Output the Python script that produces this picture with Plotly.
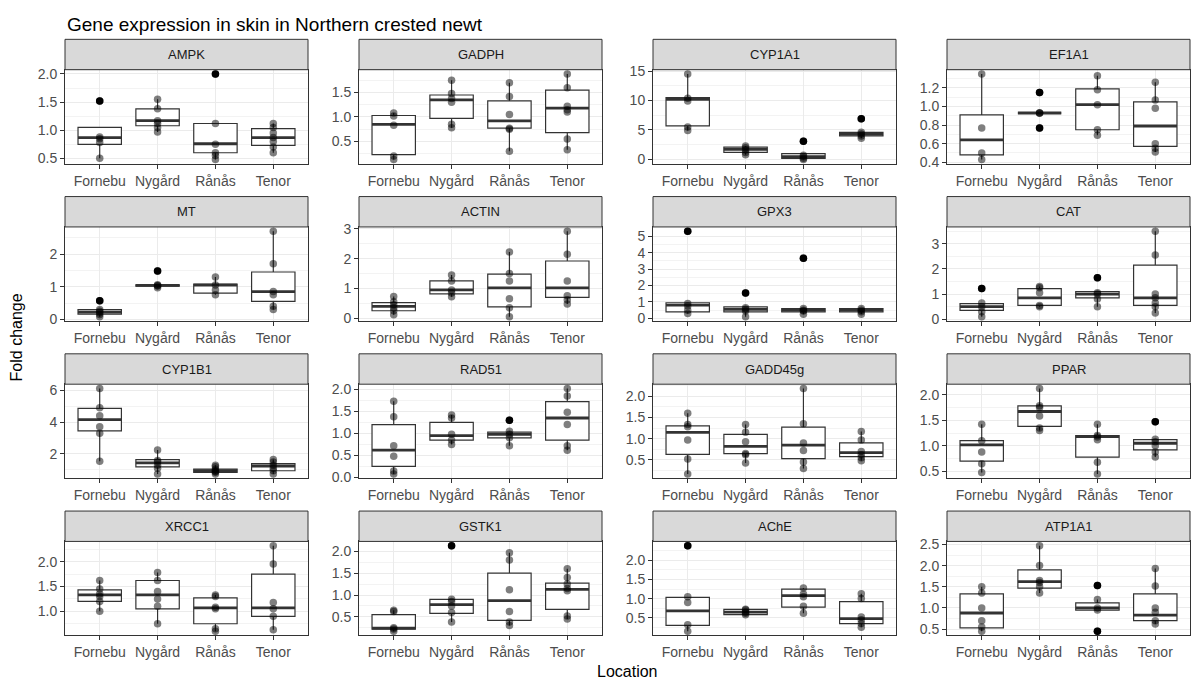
import plotly.graph_objects as go

genes = ["AMPK", "GADPH", "CYP1A1", "EF1A1",
         "MT", "ACTIN", "GPX3", "CAT",
         "CYP1B1", "RAD51", "GADD45g", "PPAR",
         "XRCC1", "GSTK1", "AChE", "ATP1A1"]
locations = ["Fornebu", "Nygård", "Rånås", "Tenor"]

# box statistics per gene, one value per location (Fornebu, Nygård, Rånås, Tenor)
q1 = [
    [0.75, 1.08, 0.60, 0.73], [0.23, 0.97, 0.77, 0.68], [5.7, 1.2, 0.2, 4.0], [0.48, 0.93, 0.75, 0.57],
    [0.16, 1.02, 0.80, 0.55], [0.25, 0.82, 0.38, 0.70], [0.40, 0.40, 0.40, 0.40], [0.35, 0.55, 0.85, 0.55],
    [3.45, 1.20, 0.85, 0.95], [0.25, 0.85, 0.90, 0.85], [0.63, 0.65, 0.53, 0.58], [0.70, 1.38, 0.78, 0.92],
    [1.20, 1.05, 0.75, 0.90], [0.22, 0.58, 0.42, 0.67], [0.30, 0.58, 0.78, 0.35], [0.53, 1.47, 0.95, 0.70],
]
medians = [
    [0.87, 1.17, 0.76, 0.87], [0.85, 1.35, 0.92, 1.18], [10.2, 1.7, 0.5, 4.3], [0.64, 0.93, 1.02, 0.79],
    [0.22, 1.04, 1.05, 0.85], [0.40, 0.95, 1.02, 1.02], [0.80, 0.55, 0.50, 0.50], [0.50, 0.85, 1.00, 0.85],
    [4.15, 1.45, 0.95, 1.25], [0.62, 0.95, 0.98, 1.35], [1.15, 0.82, 0.85, 0.67], [1.02, 1.67, 1.18, 1.05],
    [1.33, 1.33, 1.07, 1.07], [0.24, 0.78, 0.87, 1.13], [0.68, 0.65, 1.08, 0.48], [0.88, 1.62, 1.00, 0.83],
]
q3 = [
    [1.05, 1.38, 1.12, 1.03], [1.03, 1.45, 1.33, 1.55], [10.5, 2.1, 1.0, 4.6], [0.91, 0.93, 1.19, 1.05],
    [0.30, 1.06, 1.08, 1.45], [0.52, 1.25, 1.48, 1.92], [0.95, 0.70, 0.60, 0.60], [0.62, 1.22, 1.10, 2.15],
    [4.85, 1.65, 1.05, 1.40], [1.20, 1.25, 1.03, 1.72], [1.30, 1.10, 1.27, 0.90], [1.10, 1.78, 1.20, 1.12],
    [1.43, 1.62, 1.27, 1.75], [0.55, 0.90, 1.50, 1.27], [1.03, 0.72, 1.25, 0.92], [1.33, 1.90, 1.12, 1.33],
]

# individual observations per gene and location
points = [
    [[0.50, 0.78, 0.85, 0.88, 1.52], [0.97, 1.05, 1.12, 1.17, 1.38, 1.55],
     [0.48, 0.55, 0.60, 0.75, 1.12, 2.00], [0.60, 0.70, 0.80, 0.87, 0.95, 1.05, 1.12]],
    [[0.13, 0.20, 0.83, 1.02, 1.08], [0.78, 0.85, 1.30, 1.38, 1.48, 1.75],
     [0.30, 0.75, 0.77, 1.05, 1.42, 1.70], [0.33, 0.55, 1.10, 1.15, 1.22, 1.60, 1.88]],
    [[4.9, 5.5, 9.9, 10.4, 14.5], [0.8, 1.2, 1.6, 2.0, 2.3],
     [0.0, 0.2, 0.5, 0.7, 3.1], [3.6, 4.0, 4.3, 4.6, 6.9]],
    [[0.43, 0.50, 0.77, 1.35], [0.77, 0.93, 0.93, 0.93, 1.15],
     [0.69, 0.75, 1.02, 1.18, 1.33], [0.51, 0.55, 0.60, 0.98, 1.07, 1.26]],
    [[0.08, 0.15, 0.20, 0.25, 0.30, 0.57], [0.97, 1.02, 1.04, 1.06, 1.48],
     [0.75, 0.90, 1.05, 1.30], [0.30, 0.40, 0.75, 0.85, 1.70, 2.70]],
    [[0.12, 0.25, 0.35, 0.45, 0.55, 0.73], [0.72, 0.85, 0.95, 1.25, 1.45],
     [0.05, 0.35, 0.65, 1.25, 1.50, 2.22], [0.48, 0.62, 0.75, 1.25, 2.15, 2.92]],
    [[0.30, 0.50, 0.75, 0.90, 5.30], [0.10, 0.45, 0.55, 0.65, 1.55],
     [0.25, 0.45, 0.50, 0.60, 3.65], [0.25, 0.40, 0.50, 0.60]],
    [[0.10, 0.30, 0.50, 0.65, 1.22], [0.50, 0.55, 1.05, 1.25, 1.30],
     [0.50, 0.80, 1.00, 1.05, 1.65], [0.25, 0.50, 0.65, 0.85, 1.00, 2.55, 3.50]],
    [[1.55, 3.30, 3.70, 4.40, 4.90, 6.10], [0.75, 1.10, 1.30, 1.50, 1.60, 2.25],
     [0.75, 0.85, 0.90, 0.95, 1.05, 1.20, 1.30], [0.75, 0.95, 1.10, 1.30, 1.50, 1.65]],
    [[0.08, 0.15, 0.48, 0.72, 1.38, 1.73], [0.75, 0.85, 0.98, 1.35, 1.42],
     [0.72, 0.90, 0.98, 1.05, 1.30], [0.62, 0.72, 1.20, 1.48, 1.85, 2.02]],
    [[0.17, 0.52, 0.97, 1.28, 1.33, 1.60], [0.43, 0.62, 0.65, 0.93, 1.15, 1.33],
     [0.30, 0.45, 0.72, 0.90, 1.35, 2.18], [0.48, 0.55, 0.62, 0.70, 0.97, 1.17]],
    [[0.48, 0.65, 0.88, 1.10, 1.42], [1.30, 1.35, 1.58, 1.75, 1.78, 2.12],
     [0.45, 0.68, 1.12, 1.17, 1.20, 1.42], [0.78, 0.88, 1.00, 1.08, 1.13, 1.47]],
    [[1.00, 1.20, 1.30, 1.35, 1.45, 1.62], [0.75, 1.10, 1.25, 1.40, 1.62, 1.78],
     [0.60, 0.65, 1.05, 1.08, 1.30, 1.33], [0.63, 0.90, 1.05, 1.18, 1.95, 2.32]],
    [[0.17, 0.22, 0.25, 0.62, 0.65], [0.38, 0.60, 0.75, 0.85, 0.90, 2.13],
     [0.30, 0.38, 0.62, 1.12, 1.80, 1.97], [0.45, 0.52, 1.10, 1.15, 1.25, 1.40, 1.60]],
    [[0.15, 0.32, 0.90, 1.05, 2.38], [0.58, 0.62, 0.65, 0.70, 0.72],
     [0.62, 0.80, 1.05, 1.12, 1.28], [0.25, 0.35, 0.45, 0.52, 1.00, 1.13]],
    [[0.45, 0.55, 0.70, 1.00, 1.35, 1.50], [1.35, 1.50, 1.60, 1.65, 2.00, 2.47],
     [0.45, 0.95, 1.00, 1.20, 1.53], [0.62, 0.70, 0.90, 1.00, 1.52, 1.93]],
]

# y-axis tick spacing and label format per gene
tick_step = [0.5, 0.5, 5, 0.2, 1, 1, 1, 1, 2, 0.5, 0.5, 0.5, 0.5, 0.5, 0.5, 0.5]
tick_format = [".1f", ".1f", "d", ".1f", "d", "d", "d", "d", "d", ".1f", ".1f", ".1f", ".1f", ".1f", ".1f", ".1f"]

# ---------------- layout geometry (pixels) ----------------
W, H = 1200, 690
col_left = [65, 359, 653, 947]
panel_w = 243
strip_top0 = 33
row_pitch = 160.5
strip_h = 31
panel_h = 96
box_w = 0.75

FONT = "Liberation Sans, Arial, sans-serif"
DARK = "#333333"


def px_x(v):
    return v / W


def px_y(v):
    return 1 - v / H


fig = go.Figure()
shapes = []
annotations = []
layout_axes = {}

for k, gene in enumerate(genes):
    r, c = divmod(k, 4)
    ax = "" if k == 0 else str(k + 1)
    xref, yref = "x" + ax, "y" + ax
    left = col_left[c]
    right = left + panel_w
    s_top = strip_top0 + r * row_pitch
    p_top = s_top + strip_h
    p_bot = p_top + panel_h

    lw, uw, outx, outy, px_, py_ = [], [], [], [], [], []
    for i, loc in enumerate(locations):
        pts = points[k][i]
        iqr = q3[k][i] - q1[k][i]
        lo_lim = q1[k][i] - 1.5 * iqr
        hi_lim = q3[k][i] + 1.5 * iqr
        inside = [p for p in pts if lo_lim - 1e-9 <= p <= hi_lim + 1e-9]
        lw.append(min(min(inside), q1[k][i]))
        uw.append(max(max(inside), q3[k][i]))
        for p in pts:
            px_.append(i)
            py_.append(p)
            if p < lo_lim - 1e-9 or p > hi_lim + 1e-9:
                outx.append(i)
                outy.append(p)

    xs = list(range(len(locations)))
    fig.add_trace(go.Box(
        x=xs, q1=q1[k], median=medians[k], q3=q3[k],
        lowerfence=lw, upperfence=uw, orientation="v",
        width=box_w, whiskerwidth=0, boxpoints=False,
        fillcolor="white", line=dict(color=DARK, width=1.2),
        xaxis=xref, yaxis=yref, showlegend=False, hoverinfo="skip"))

    mx, my = [], []
    for i in xs:
        mx += [i - box_w / 2, i + box_w / 2, None]
        my += [medians[k][i], medians[k][i], None]
    fig.add_trace(go.Scatter(x=mx, y=my, mode="lines",
                             line=dict(color=DARK, width=2.8),
                             xaxis=xref, yaxis=yref, showlegend=False, hoverinfo="skip"))
    fig.add_trace(go.Scatter(x=outx, y=outy, mode="markers",
                             marker=dict(color="black", size=7.5),
                             xaxis=xref, yaxis=yref, showlegend=False, hoverinfo="skip"))
    fig.add_trace(go.Scatter(x=px_, y=py_, mode="markers",
                             marker=dict(color="rgba(0,0,0,0.5)", size=7.5),
                             xaxis=xref, yaxis=yref, showlegend=False, hoverinfo="skip"))

    allv = [v for lst in points[k] for v in lst] + q1[k] + q3[k]
    vmin, vmax = min(allv), max(allv)
    pad = 0.05 * (vmax - vmin)
    step = tick_step[k]

    layout_axes["xaxis" + ax] = dict(
        domain=[px_x(left), px_x(right)], anchor=yref,
        range=[-0.6, len(locations) - 0.4],
        tickmode="array", tickvals=xs, ticktext=locations,
        ticks="outside", ticklen=4, tickcolor=DARK, tickwidth=1,
        showgrid=True, gridcolor="#EBEBEB", gridwidth=1,
        showline=True, mirror=True, linecolor=DARK, linewidth=1,
        zeroline=False, fixedrange=True,
        tickfont=dict(family=FONT, size=14, color="#4D4D4D"))
    layout_axes["yaxis" + ax] = dict(
        domain=[px_y(p_bot), px_y(p_top)], anchor=xref,
        range=[vmin - pad, vmax + pad],
        tickmode="linear", tick0=0, dtick=step, tickformat=tick_format[k],
        ticks="outside", ticklen=4, tickcolor=DARK, tickwidth=1,
        showgrid=True, gridcolor="#EBEBEB", gridwidth=1,
        minor=dict(dtick=step / 2, tick0=0, showgrid=True, gridcolor="#F3F3F3", gridwidth=1, ticks=""),
        showline=True, mirror=True, linecolor=DARK, linewidth=1,
        zeroline=False, fixedrange=True,
        tickfont=dict(family=FONT, size=14, color="#4D4D4D"))

    shapes.append(dict(type="rect", xref="paper", yref="paper",
                       x0=px_x(left), x1=px_x(right), y0=px_y(p_top), y1=px_y(s_top),
                       fillcolor="#D9D9D9", line=dict(color=DARK, width=1), layer="above"))
    annotations.append(dict(text=gene, xref="paper", yref="paper",
                            x=px_x((left + right) / 2), y=px_y(s_top + strip_h / 2),
                            xanchor="center", yanchor="middle", showarrow=False,
                            font=dict(family=FONT, size=13, color="#1A1A1A")))

annotations.append(dict(text="Gene expression in skin in Northern crested newt",
                        xref="paper", yref="paper", x=px_x(col_left[0]), y=px_y(18),
                        xanchor="left", yanchor="middle", showarrow=False,
                        font=dict(family=FONT, size=19, color="black")))
annotations.append(dict(text="Fold change", xref="paper", yref="paper",
                        x=px_x(16), y=px_y((strip_top0 + 3 * row_pitch + strip_h + panel_h + strip_top0) / 2),
                        xanchor="center", yanchor="middle", textangle=-90, showarrow=False,
                        font=dict(family=FONT, size=16, color="black")))
annotations.append(dict(text="Location", xref="paper", yref="paper",
                        x=px_x((col_left[0] + col_left[3] + panel_w) / 2), y=px_y(678),
                        xanchor="center", yanchor="middle", showarrow=False,
                        font=dict(family=FONT, size=16, color="black")))

fig.update_layout(width=W, height=H, margin=dict(l=0, r=0, t=0, b=0),
                  paper_bgcolor="white", plot_bgcolor="white",
                  shapes=shapes, annotations=annotations, showlegend=False,
                  **layout_axes)

fig.write_html("out.html")
